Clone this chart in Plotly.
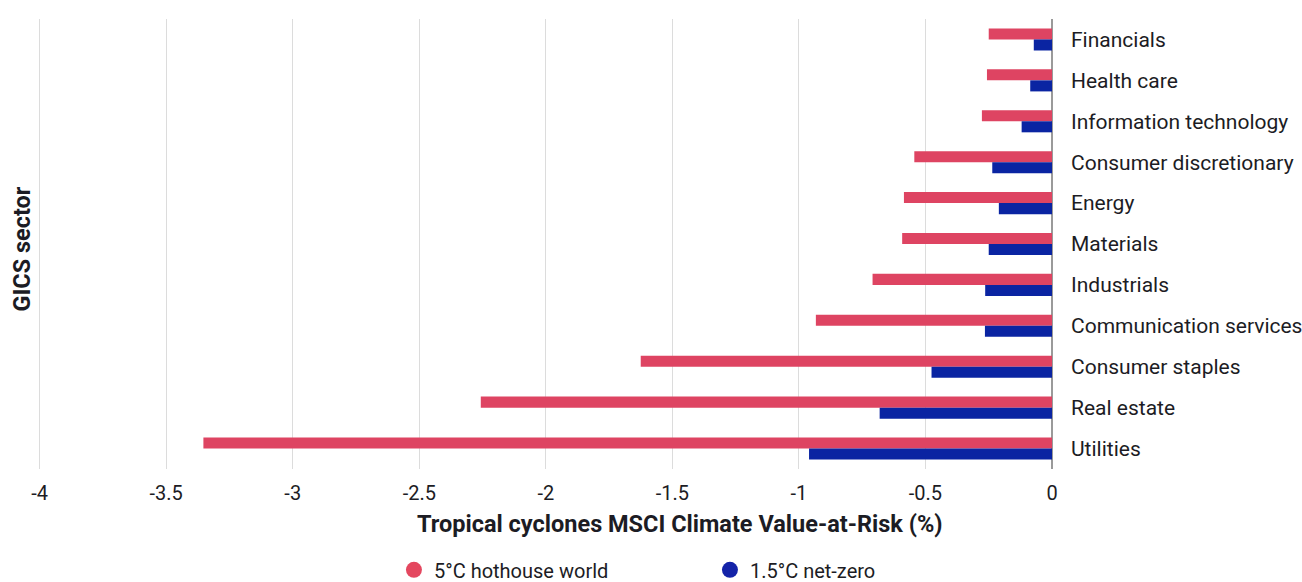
import plotly.graph_objects as go

sectors = ["Financials", "Health care", "Information technology", "Consumer discretionary",
           "Energy", "Materials", "Industrials", "Communication services",
           "Consumer staples", "Real estate", "Utilities"]
hothouse_5c = [-0.25, -0.257, -0.277, -0.544, -0.585, -0.592, -0.709, -0.933, -1.625, -2.257, -3.353]
netzero_15c = [-0.072, -0.086, -0.12, -0.236, -0.21, -0.25, -0.264, -0.265, -0.476, -0.681, -0.96]
x_ticks = [-4, -3.5, -3, -2.5, -2, -1.5, -1, -0.5, 0]
x_tick_labels = ["-4", "-3.5", "-3", "-2.5", "-2", "-1.5", "-1", "-0.5", "0"]

RED = "#DE4462"
BLUE = "#0A24A2"
TXT = "#1c1c24"
FONT = "Roboto"

fig = go.Figure()
fig.add_trace(go.Bar(y=sectors, x=hothouse_5c, orientation="h", marker=dict(color=RED, line=dict(width=0)),
                     name="5°C hothouse world", showlegend=False))
fig.add_trace(go.Bar(y=sectors, x=netzero_15c, orientation="h", marker=dict(color=BLUE, line=dict(width=0)),
                     name="1.5°C net-zero", showlegend=False))
fig.add_trace(go.Scatter(x=[None], y=[None], mode="markers", name="5°C hothouse world",
                         marker=dict(symbol="circle", size=20, color="#E4475F")))
fig.add_trace(go.Scatter(x=[None], y=[None], mode="markers", name="1.5°C net-zero",
                         marker=dict(symbol="circle", size=20, color="#1423A8")))

fig.update_layout(
    width=1302, height=582,
    margin=dict(l=27.35, r=250, t=19, b=113, autoexpand=False),
    plot_bgcolor="white", paper_bgcolor="white",
    barmode="group", bargap=0.46, bargroupgap=0,
    font=dict(family=FONT, size=20, color=TXT),
    legend=dict(orientation="h", x=0.358, xanchor="left", y=-0.224, yanchor="middle",
                entrywidth=271, entrywidthmode="pixels", itemsizing="trace",
                font=dict(size=20, color=TXT), bgcolor="rgba(0,0,0,0)"),
    annotations=[
        dict(text="Tropical cyclones MSCI Climate Value-at-Risk (%)", xref="paper", yref="paper",
             x=0.637, y=-0.122, xanchor="center", yanchor="middle", showarrow=False,
             font=dict(family=FONT, size=23.5, color=TXT, weight="bold")),
        dict(text="GICS sector", xref="paper", yref="paper", textangle=-90,
             x=-0.0052, y=0.489, xanchor="center", yanchor="middle", showarrow=False,
             font=dict(family=FONT, size=23.5, color=TXT, weight="bold")),
    ],
)
fig.update_xaxes(range=[-4.05, 0], tickvals=x_ticks, ticktext=x_tick_labels,
                 showgrid=True, gridcolor="#dcdcdc", gridwidth=1,
                 zeroline=True, zerolinecolor="#9a9a9a", zerolinewidth=1.5,
                 ticks="outside", ticklen=6, tickcolor="rgba(0,0,0,0)",
                 tickfont=dict(size=20, color=TXT), showline=False, fixedrange=True,
                 automargin=False)
fig.update_yaxes(categoryorder="array", categoryarray=sectors, autorange="reversed",
                 side="right", showgrid=False, showline=False, zeroline=False,
                 ticks="", ticklabelstandoff=18,
                 tickfont=dict(size=21, color=TXT), fixedrange=True, automargin=False)

fig.write_html("out.html", config={"displayModeBar": False},
               post_script="document.body.style.margin='0';document.body.style.overflow='hidden';")
